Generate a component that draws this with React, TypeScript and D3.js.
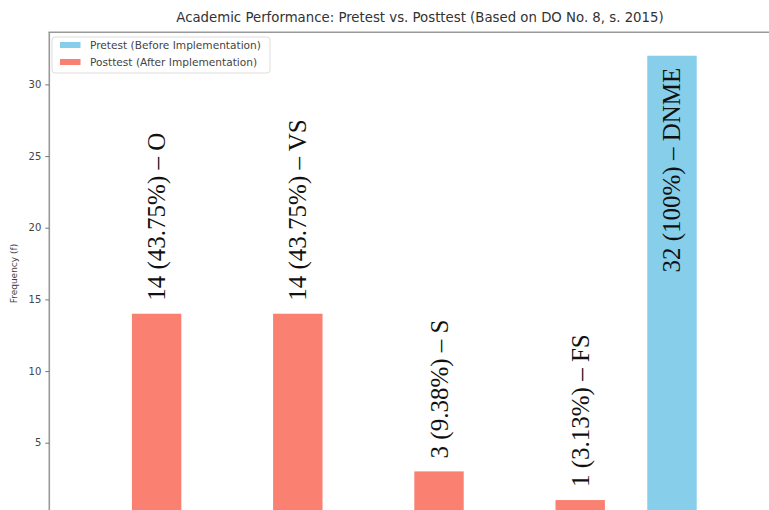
import { useEffect, useRef } from 'react';
import * as d3 from 'd3';

// Data
const categories = ['O', 'VS', 'S', 'FS', 'DNME'];
const pretest = [0, 0, 0, 0, 32];
const posttest = [14, 14, 3, 1, 0];
const total = 32;
const yTicks = [0, 5, 10, 15, 20, 25, 30];
const seriesNames = ['Pretest (Before Implementation)', 'Posttest (After Implementation)'];
const seriesColors = ['#87CEEB', '#FA8072'];

const W = 769;
const H = 510;

export default function App() {
  const svgRef = useRef<SVGSVGElement>(null);

  useEffect(() => {
    if (!svgRef.current) return;
    const svg = d3.select(svgRef.current);
    svg.selectAll('*').remove();

    const barW = 0.35;
    const x = d3.scaleLinear().domain([-0.585, categories.length - 1 + 0.585]).range([49.3, 779.3]);
    const y = d3.scaleLinear().domain([0, 33.6]).range([514.4, 32.8]);
    const pxW = x(barW) - x(0);

    const sans = 'DejaVu Sans, sans-serif';

    // title
    svg.append('text')
      .attr('x', 420)
      .attr('y', 22)
      .attr('text-anchor', 'middle')
      .attr('font-family', sans)
      .attr('font-size', 13.3)
      .attr('fill', '#333')
      .text('Academic Performance: Pretest vs. Posttest (Based on DO No. 8, s. 2015)');

    // bars
    const series = [pretest, posttest];
    series.forEach((vals, s) => {
      const off = s === 0 ? -barW / 2 : barW / 2;
      svg.append('g')
        .selectAll('rect')
        .data(vals)
        .enter()
        .append('rect')
        .attr('x', (_d, i) => x(i + off) - pxW / 2)
        .attr('y', (d) => y(d))
        .attr('width', pxW)
        .attr('height', (d) => y(0) - y(d))
        .attr('fill', seriesColors[s]);
    });

    // value labels
    const maxVal = d3.max(pretest) || 0;
    series.forEach((vals, s) => {
      const off = s === 0 ? -barW / 2 : barW / 2;
      vals.forEach((v, i) => {
        if (v <= 0) return;
        const pct = ((v / total) * 100).toFixed(2).replace(/\.00$/, '');
        const inside = v === maxVal;
        const cx = x(i + off);
        const ty = inside ? y(v) + 12 : y(v) - 13;
        svg.append('text')
          .attr('transform', `translate(${cx},${ty}) rotate(-90)`)
          .attr('text-anchor', inside ? 'end' : 'start')
          .attr('dominant-baseline', 'central')
          .attr('font-family', 'Liberation Serif, serif')
          .attr('font-size', 25)
          .attr('fill', '#111')
          .text(`${v} (${pct}%) – ${categories[i]}`);
      });
    });

    // axes frame
    svg.append('line')
      .attr('x1', 49.3).attr('x2', 49.3)
      .attr('y1', 32.3).attr('y2', H + 10)
      .attr('stroke', '#999').attr('stroke-width', 1.6);
    svg.append('line')
      .attr('x1', 48.5).attr('x2', W + 10)
      .attr('y1', 32.3).attr('y2', 32.3)
      .attr('stroke', '#999').attr('stroke-width', 1.6);

    // y axis
    const yAxis = d3.axisLeft(y).tickValues(yTicks).tickSize(4).tickPadding(4);
    const ga = svg.append('g').attr('transform', 'translate(49.3,0)').call(yAxis);
    ga.select('.domain').remove();
    ga.selectAll('line').attr('stroke', '#777');
    ga.selectAll('text')
      .attr('font-family', sans)
      .attr('font-size', 10)
      .attr('fill', '#444');

    svg.append('text')
      .attr('transform', `translate(17,${(y(0) + y(33.6)) / 2}) rotate(-90)`)
      .attr('text-anchor', 'middle')
      .attr('font-family', sans)
      .attr('font-size', 9)
      .attr('fill', '#444')
      .text('Frequency (f)');

    // legend
    const lg = svg.append('g').attr('transform', 'translate(52,37)');
    lg.append('rect')
      .attr('width', 218)
      .attr('height', 36)
      .attr('rx', 3)
      .attr('fill', '#fff')
      .attr('stroke', '#ddd');
    seriesNames.forEach((name, i) => {
      lg.append('rect')
        .attr('x', 8)
        .attr('y', 5 + i * 17)
        .attr('width', 20.5)
        .attr('height', 6)
        .attr('fill', seriesColors[i]);
      lg.append('text')
        .attr('x', 38)
        .attr('y', 8 + i * 17)
        .attr('dominant-baseline', 'central')
        .attr('font-family', sans)
        .attr('font-size', 10.6)
        .attr('fill', '#444')
        .text(name);
    });
  }, []);

  return (
    <svg
      ref={svgRef}
      width={W}
      height={H}
      style={{ position: 'absolute', left: 0, top: 0, background: '#fff' }}
    />
  );
}
